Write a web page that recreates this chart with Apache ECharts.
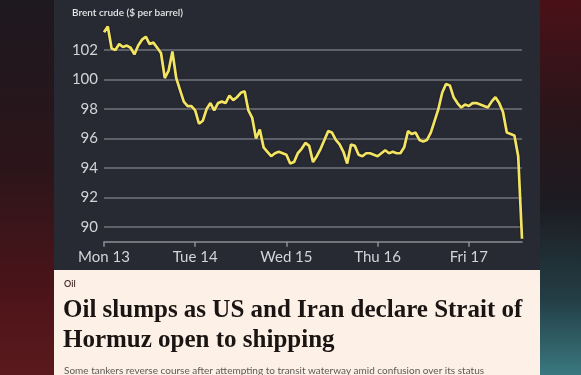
<!DOCTYPE html>
<html><head><meta charset="utf-8">
<script src="https://cdn.jsdelivr.net/npm/echarts@6/dist/echarts.min.js"></script>
<style>html,body{margin:0;padding:0;background:#1b1a20;}#c{width:581px;height:375px;}</style>
</head><body><div id="c"></div>
<script>
// ---- data ----
const dayLabels = ['Mon 13', 'Tue 14', 'Wed 15', 'Thu 16', 'Fri 17'];
const pointsPerDay = 24; // hourly readings
const brentPrice = [
  103.2, 103.6, 102.1, 102.0, 102.4, 102.2, 102.3, 102.15, 101.7, 102.3, 102.7, 102.9,
  102.4, 102.5, 102.15, 101.8, 100.1, 100.6, 101.9, 100.1, 99.3, 98.5, 98.2, 98.2,
  97.9, 97.0, 97.2, 98.0, 98.4, 97.9, 98.4, 98.5, 98.4, 98.9, 98.6, 98.8,
  99.1, 99.2, 97.9, 97.4, 96.0, 96.6, 95.4, 95.1, 94.8, 95.0, 95.1, 95.0,
  94.9, 94.3, 94.4, 95.0, 95.3, 95.7, 95.5, 94.4, 94.8, 95.3, 95.9, 96.5,
  96.4, 95.9, 95.6, 95.1, 94.3, 95.6, 95.5, 94.9, 94.8, 95.0, 95.0, 94.9,
  94.8, 95.0, 95.2, 95.0, 95.1, 95.0, 95.0, 95.4, 96.5, 96.3, 96.4, 95.9,
  95.8, 95.9, 96.4, 97.2, 98.0, 99.1, 99.7, 99.6, 98.8, 98.4, 98.1, 98.3,
  98.2, 98.4, 98.4, 98.3, 98.2, 98.1, 98.5, 98.8, 98.4, 97.8, 96.4, 96.3,
  96.2, 94.8, 89.2
];
const yTicks = [90, 92, 94, 96, 98, 100, 102];
const chartTitle = 'Brent crude ($ per barrel)';
const tagText = 'Oil';
const headlineLines = ['Oil slumps as US and Iran declare Strait of', 'Hormuz open to shipping'];
const standfirst = 'Some tankers reverse course after attempting to transit waterway amid confusion over its status';

// ---- build ----
const categories = brentPrice.map((_, i) => dayLabels[Math.floor(i / pointsPerDay)] + ' ' + String(i % pointsPerDay).padStart(2, '0') + ':00');
const isDayStart = (idx) => idx % pointsPerDay === 0;

const chart = echarts.init(document.getElementById('c'), null, {renderer: 'canvas'});
const sans = 'Lato, "Open Sans", sans-serif';
chart.setOption({
  animation: false,
  backgroundColor: '#1b1a20',
  title: {
    text: chartTitle, left: 72, top: 8, padding: 0,
    textStyle: {color: '#e6e6e8', fontSize: 10, fontWeight: 600, fontFamily: sans}
  },
  grid: {left: 104, right: 59, top: 20.5, bottom: 133.25, containLabel: false},
  xAxis: {
    type: 'category', data: categories, boundaryGap: false,
    axisLine: {show: true, lineStyle: {color: '#8d8f95', width: 1.5}},
    axisTick: {show: true, length: 5, interval: (i) => isDayStart(i), lineStyle: {color: '#8d8f95', width: 1.5}},
    axisLabel: {
      interval: (i) => isDayStart(i), margin: 8,
      formatter: (v, i) => dayLabels[Math.floor(i / pointsPerDay)],
      color: '#d2d4d8', fontSize: 15, fontFamily: sans
    },
    splitLine: {show: false}
  },
  yAxis: {
    type: 'value', min: 89, max: 104, interval: 1,
    axisLine: {show: false}, axisTick: {show: false},
    splitLine: {show: false},
    axisLabel: {
      margin: 6, color: '#d2d4d8', fontSize: 15, fontFamily: sans,
      formatter: (v) => (yTicks.indexOf(v) >= 0 ? String(v) : '')
    }
  },
  series: [
    {
      type: 'line', data: brentPrice, z: 1, symbol: 'none', silent: true,
      lineStyle: {opacity: 0},
      markLine: {
        silent: true, symbol: 'none', label: {show: false},
        lineStyle: {color: '#72757d', width: 1.5, type: 'solid'},
        data: yTicks.map(v => ({yAxis: v}))
      }
    },
    {
      type: 'line', data: brentPrice, z: 5, symbol: 'none', smooth: false,
      lineStyle: {color: '#f3e462', width: 2.7, shadowColor: 'rgba(0,0,0,0.5)', shadowBlur: 2}
    }
  ],
  graphic: [
    {type: 'rect', z: -20, shape: {x: 0, y: 0, width: 54, height: 375},
      style: {fill: new echarts.graphic.LinearGradient(0, 0, 0, 1, [
        {offset: 0, color: '#1d191f'}, {offset: 0.45, color: '#2c151a'},
        {offset: 0.8, color: '#4d1419'}, {offset: 1, color: '#5a1a1d'}])}},
    {type: 'rect', z: -20, shape: {x: 540, y: 0, width: 41, height: 375},
      style: {fill: new echarts.graphic.LinearGradient(0, 0, 0, 1, [
        {offset: 0, color: '#4a1117'}, {offset: 0.3, color: '#2a151a'},
        {offset: 0.55, color: '#1c1c22'}, {offset: 0.8, color: '#233e45'},
        {offset: 1, color: '#3a7880'}])}},
    {type: 'rect', z: -10, shape: {x: 54, y: 0, width: 486, height: 270}, style: {fill: '#272a33'}},
    {type: 'rect', z: -10, shape: {x: 54, y: 270, width: 486, height: 105}, style: {fill: '#fdf0e6'}},
    {type: 'text', z: 10, x: 64, y: 280, style: {text: tagText, fill: '#4a2a2e', font: '600 9px ' + sans}},
    {type: 'text', z: 10, x: 63, y: 298, style: {text: headlineLines[0], fill: '#1a1412', font: 'bold 25px "Liberation Serif", "DejaVu Serif", serif'}},
    {type: 'text', z: 10, x: 63, y: 328, style: {text: headlineLines[1], fill: '#1a1412', font: 'bold 25px "Liberation Serif", "DejaVu Serif", serif'}},
    {type: 'text', z: 10, x: 64, y: 366, style: {text: standfirst, fill: '#5e5955', font: '10px ' + sans}}
  ]
});
</script>
</body></html>
